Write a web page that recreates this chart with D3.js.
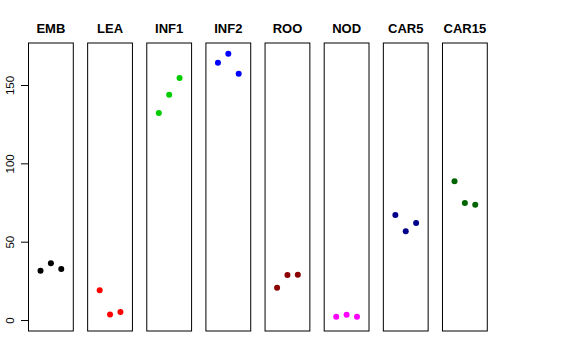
<!DOCTYPE html>
<html>
<head>
<meta charset="utf-8">
<script src="https://cdn.jsdelivr.net/npm/d3@7"></script>
<style>
  body { margin: 0; background: #fff; }
  text { font-family: "Liberation Sans", Arial, sans-serif; }
</style>
</head>
<body>
<div id="chart"></div>
<script>
// Data
const tissues = ['EMB', 'LEA', 'INF1', 'INF2', 'ROO', 'NOD', 'CAR5', 'CAR15'];
const replicates = [1, 2, 3];
const values = [
    [31.5, 36.2, 32.5],
    [19.0, 3.6, 5.1],
    [132.1, 143.8, 154.4],
    [164.2, 169.9, 157.2],
    [20.6, 28.7, 28.9],
    [2.1, 3.4, 2.1],
    [67.0, 56.6, 61.9],
    [88.5, 74.7, 73.6]
];
const colors = ['#000000', '#FF0000', '#00CD00', '#0000FF', '#8B0000', '#FF00FF', '#00008B', '#006400'];
const yTicks = [0, 50, 100, 150];

const width = 576, height = 360;
const panelLeft = 28.5, panelStep = 59.14, panelWidth = 44.8;
const panelTop = 43, panelBottom = 331;

const svg = d3.select('#chart')
    .append('svg')
    .attr('width', width)
    .attr('height', height);

// Shared y scale
const yScale = d3.scaleLinear()
    .domain([-7.0, 176.8])
    .range([panelBottom, panelTop]);

// Within-panel x scale
const xScale = d3.scaleLinear()
    .domain([-0.16, 4.16])
    .range([0, panelWidth]);

tissues.forEach((name, i) => {
    const g = svg.append('g')
        .attr('transform', `translate(${panelLeft + i * panelStep},0)`);

    g.append('rect')
        .attr('x', 0)
        .attr('y', panelTop)
        .attr('width', panelWidth)
        .attr('height', panelBottom - panelTop)
        .attr('fill', 'none')
        .attr('stroke', '#000')
        .attr('stroke-width', 1);

    g.append('text')
        .attr('x', panelWidth / 2)
        .attr('y', 33)
        .attr('text-anchor', 'middle')
        .attr('font-size', '13px')
        .attr('font-weight', 'bold')
        .text(name);

    g.selectAll('circle')
        .data(values[i])
        .enter()
        .append('circle')
        .attr('cx', (d, j) => xScale(replicates[j]))
        .attr('cy', d => yScale(d))
        .attr('r', 3)
        .attr('fill', colors[i]);
});

// Y axis on the first panel
const axis = svg.append('g')
    .attr('transform', `translate(${panelLeft},0)`)
    .call(d3.axisLeft(yScale).tickValues(yTicks).tickSize(7.5).tickFormat(d3.format('d')));

axis.select('.domain').remove();
axis.selectAll('line').attr('stroke', '#000');
axis.selectAll('text')
    .attr('font-size', '11.5px')
    .attr('fill', '#000')
    .attr('font-family', '"Liberation Sans", Arial, sans-serif')
    .attr('text-anchor', 'middle')
    .attr('dy', null)
    .attr('x', null)
    .attr('transform', d => `translate(-15,0) rotate(-90)`);
</script>
</body>
</html>
